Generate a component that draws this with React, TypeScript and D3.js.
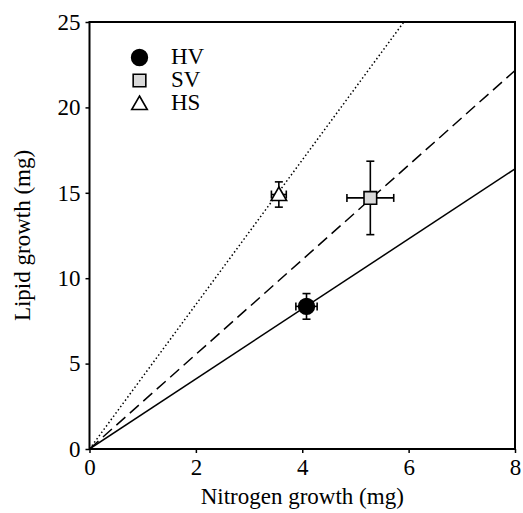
import React, { useEffect, useRef } from 'react';
import * as d3 from 'd3';

// treatment groups
const groups = ['HV', 'SV', 'HS'];
const nitrogen = [4.08, 5.28, 3.56];
const nitrogenErr = [0.2, 0.44, 0.14];
const lipid = [8.35, 14.7, 14.9];
const lipidErr = [0.75, 2.15, 0.74];
// regression lines through origin (slopes)
const slopes = [2.05, 2.77, 4.23];
const xTicks = [0, 2, 4, 6, 8];
const yTicks = [0, 5, 10, 15, 20, 25];

const W = 523;
const H = 513;
const margin = { top: 22, right: 8, bottom: 64, left: 89.5 };
const FONT = '"Liberation Serif", "Times New Roman", serif';
const FS = 23;

export default function App() {
  const ref = useRef<SVGSVGElement>(null);

  useEffect(() => {
    const svg = d3.select(ref.current);
    svg.selectAll('*').remove();

    const w = W - margin.left - margin.right;
    const h = H - margin.top - margin.bottom;

    const x = d3.scaleLinear().domain([0, 8]).range([0, w]);
    const y = d3.scaleLinear().domain([0, 25]).range([h, 0]);

    const defs = svg.append('defs');
    defs.append('clipPath').attr('id', 'plotclip')
      .append('rect').attr('width', w).attr('height', h);

    const g = svg.append('g')
      .attr('transform', 'translate(' + margin.left + ',' + margin.top + ')');

    // fitted lines
    const dashes = [null, '12,6', '1.5,2.5'];
    const lines = g.append('g').attr('clip-path', 'url(#plotclip)');
    slopes.forEach((s, i) => {
      lines.append('line')
        .attr('x1', x(0)).attr('y1', y(0))
        .attr('x2', x(8)).attr('y2', y(8 * s))
        .attr('stroke', '#000')
        .attr('stroke-width', 1.5)
        .attr('stroke-dasharray', dashes[i]);
    });

    // frame
    g.append('rect')
      .attr('width', w).attr('height', h)
      .attr('fill', 'none').attr('stroke', '#000').attr('stroke-width', 2);

    const xAxis = g.append('g')
      .attr('transform', 'translate(0,' + h + ')')
      .call(d3.axisBottom(x).tickValues(xTicks).tickSize(4).tickPadding(6).tickFormat(d3.format('d')));
    const yAxis = g.append('g')
      .call(d3.axisLeft(y).tickValues(yTicks).tickSize(4).tickPadding(5).tickFormat(d3.format('d')));
    [xAxis, yAxis].forEach((a) => {
      a.attr('font-family', FONT).attr('font-size', FS);
      a.select('.domain').remove();
      a.selectAll('line').attr('stroke-width', 1.5);
      a.selectAll('text').attr('font-family', FONT).attr('font-size', FS).attr('fill', '#000');
    });

    // error bars
    const cap = 4;
    groups.forEach((_, i) => {
      const cx = x(nitrogen[i]);
      const cy = y(lipid[i]);
      const eb = g.append('g').attr('stroke', '#000').attr('stroke-width', 1.6);
      const x0 = x(nitrogen[i] - nitrogenErr[i]);
      const x1 = x(nitrogen[i] + nitrogenErr[i]);
      const y0 = y(lipid[i] - lipidErr[i]);
      const y1 = y(lipid[i] + lipidErr[i]);
      eb.append('line').attr('x1', x0).attr('x2', x1).attr('y1', cy).attr('y2', cy);
      eb.append('line').attr('x1', x0).attr('x2', x0).attr('y1', cy - cap).attr('y2', cy + cap);
      eb.append('line').attr('x1', x1).attr('x2', x1).attr('y1', cy - cap).attr('y2', cy + cap);
      eb.append('line').attr('x1', cx).attr('x2', cx).attr('y1', y0).attr('y2', y1);
      eb.append('line').attr('x1', cx - cap).attr('x2', cx + cap).attr('y1', y0).attr('y2', y0);
      eb.append('line').attr('x1', cx - cap).attr('x2', cx + cap).attr('y1', y1).attr('y2', y1);
    });

    const symbols = [d3.symbolCircle, d3.symbolSquare, d3.symbolTriangle];
    const sizes = [195, 160, 105];
    const fills = ['#000', '#d9d9d9', '#fff'];
    const drawSymbol = (sel: any, i: number, tx: number, ty: number) => {
      sel.append('path')
        .attr('d', d3.symbol().type(symbols[i]).size(sizes[i])())
        .attr('transform', 'translate(' + tx + ',' + (ty + (i === 2 ? 1.5 : 0)) + ')')
        .attr('fill', fills[i])
        .attr('stroke', '#000')
        .attr('stroke-width', 1.6);
    };

    groups.forEach((_, i) => drawSymbol(g, i, x(nitrogen[i]), y(lipid[i])));

    // legend
    const leg = svg.append('g');
    groups.forEach((name, i) => {
      const ly = 57.5 + i * 23;
      drawSymbol(leg, i, 139.5, ly);
      leg.append('text')
        .attr('x', 171).attr('y', ly + 6.5)
        .attr('font-family', FONT).attr('font-size', FS)
        .text(name);
    });

    // axis titles
    svg.append('text')
      .attr('x', margin.left + w / 2).attr('y', 504)
      .attr('text-anchor', 'middle')
      .attr('font-family', FONT).attr('font-size', FS)
      .text('Nitrogen growth (mg)');
    svg.append('text')
      .attr('transform', 'translate(30,' + (margin.top + h / 2) + ') rotate(-90)')
      .attr('text-anchor', 'middle')
      .attr('font-family', FONT).attr('font-size', FS)
      .text('Lipid growth (mg)');
  }, []);

  return (
    <svg ref={ref} width={W} height={H}
      style={{ position: 'absolute', left: 0, top: 0, background: '#fff' }} />
  );
}
